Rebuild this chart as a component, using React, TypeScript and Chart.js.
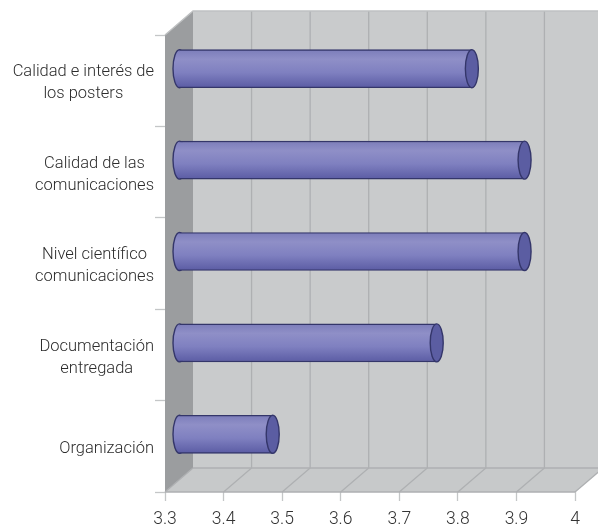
import React, { useEffect, useRef } from "react";
import { Chart, registerables } from "chart.js";

Chart.register(...registerables);

const categories: string[][] = [
  ["Calidad e interés de", "los posters"],
  ["Calidad de las", "comunicaciones"],
  ["Nivel científico", "comunicaciones"],
  ["Documentación", "entregada"],
  ["Organización"],
];
const values = [3.8, 3.89, 3.89, 3.74, 3.46];
const xTicks = [3.3, 3.4, 3.5, 3.6, 3.7, 3.8, 3.9, 4];
const axisStart = 3.3;

const DX = 28;
const DY = -24;
const BAR_H = 38;
const CAP_RX = 6.5;
const FONT = "Roboto";
const LABEL_RIGHT = 154;
const LINE_H = 22;

function bodyGradient(ctx: CanvasRenderingContext2D, y: number) {
  const g = ctx.createLinearGradient(0, y - BAR_H / 2, 0, y + BAR_H / 2);
  g.addColorStop(0, "#7c7dba");
  g.addColorStop(0.25, "#8f8fc7");
  g.addColorStop(0.6, "#7f80c0");
  g.addColorStop(1, "#5b5ca4");
  return g;
}

const room = {
  id: "room",
  beforeDatasetsDraw(chart: any) {
    const { ctx, chartArea: a, scales } = chart;
    const x = scales.x;
    const l = a.left, r = a.right, t = a.top, b = a.bottom;
    ctx.save();
    ctx.fillStyle = "#c9cbcc";
    ctx.fillRect(l + DX, t + DY, r - l, b - t);
    ctx.beginPath();
    ctx.moveTo(l, b); ctx.lineTo(r, b); ctx.lineTo(r + DX, b + DY); ctx.lineTo(l + DX, b + DY); ctx.closePath();
    ctx.fillStyle = "#c7c9ca";
    ctx.fill();
    ctx.beginPath();
    ctx.moveTo(l, t); ctx.lineTo(l + DX, t + DY); ctx.lineTo(l + DX, b + DY); ctx.lineTo(l, b); ctx.closePath();
    ctx.fillStyle = "#9b9d9f";
    ctx.fill();
    ctx.strokeStyle = "#aeb0b2";
    ctx.lineWidth = 1.3;
    for (const v of xTicks) {
      const px = x.getPixelForValue(v);
      ctx.beginPath();
      if (v > xTicks[0]) {
        ctx.moveTo(px + DX, t + DY);
        ctx.lineTo(px + DX, b + DY);
      } else {
        ctx.moveTo(px + DX, b + DY);
      }
      ctx.lineTo(px, b);
      ctx.stroke();
    }
    ctx.beginPath();
    ctx.moveTo(l + DX, b + DY); ctx.lineTo(r + DX, b + DY);
    ctx.moveTo(l, b); ctx.lineTo(r, b);
    ctx.stroke();
    ctx.strokeStyle = "#bfc1c2";
    ctx.beginPath();
    ctx.moveTo(l, t); ctx.lineTo(l + DX, t + DY); ctx.lineTo(r + DX, t + DY);
    ctx.stroke();
    ctx.restore();
  },
  beforeDatasetDraw(chart: any) {
    const { ctx } = chart;
    ctx.save();
    ctx.translate(DX / 2, DY / 2);
    chart.getDatasetMeta(0).data.forEach((bar: any) => {
      ctx.beginPath();
      ctx.ellipse(bar.base, bar.y, CAP_RX, BAR_H / 2, 0, 0, Math.PI * 2);
      ctx.fillStyle = bodyGradient(ctx, bar.y);
      ctx.fill();
      ctx.strokeStyle = "#34366a";
      ctx.lineWidth = 1.4;
      ctx.stroke();
    });
  },
  afterDatasetDraw(chart: any) {
    const { ctx } = chart;
    chart.getDatasetMeta(0).data.forEach((bar: any) => {
      ctx.beginPath();
      ctx.ellipse(bar.x, bar.y, CAP_RX, BAR_H / 2, 0, 0, Math.PI * 2);
      ctx.fillStyle = "#5b5da2";
      ctx.fill();
      ctx.strokeStyle = "#34366a";
      ctx.lineWidth = 1.4;
      ctx.stroke();
    });
    ctx.restore();
  },
  afterDraw(chart: any) {
    const { ctx, scales } = chart;
    ctx.save();
    ctx.font = `300 16.5px ${FONT}`;
    ctx.fillStyle = "#2c2c2c";
    ctx.textAlign = "center";
    ctx.textBaseline = "middle";
    categories.forEach((lines, i) => {
      const y = scales.y.getPixelForValue(i) + 2.5;
      const w = Math.max(...lines.map((s) => ctx.measureText(s).width));
      lines.forEach((s, j) => {
        ctx.fillText(s, LABEL_RIGHT - w / 2, y + (j - (lines.length - 1) / 2) * LINE_H);
      });
    });
    ctx.restore();
  },
};

export default function App() {
  const ref = useRef<HTMLCanvasElement>(null);
  useEffect(() => {
    document.body.style.margin = "0";
    const chart = new Chart(ref.current!, {
      type: "bar",
      data: {
        labels: categories as any,
        datasets: [
          {
            data: values,
            base: axisStart,
            barThickness: BAR_H,
            borderColor: "#34366a",
            borderWidth: { top: 1.4, bottom: 1.4, left: 0, right: 0 },
            borderSkipped: false,
            backgroundColor: (c: any) => {
              const y = c.chart.scales?.y?.getPixelForValue(c.dataIndex);
              return Number.isFinite(y) ? bodyGradient(c.chart.ctx, y) : "#7f80c0";
            },
          } as any,
        ],
      },
      plugins: [room],
      options: {
        indexAxis: "y",
        animation: false,
        responsive: false,
        layout: { padding: { top: 35, right: 23, left: 0, bottom: 0 } },
        plugins: { legend: { display: false }, tooltip: { enabled: false } },
        scales: {
          x: {
            type: "linear",
            min: axisStart,
            max: 4,
            afterFit: (s: any) => { s.height = 32; },
            afterBuildTicks: (s: any) => { s.ticks = xTicks.map((value) => ({ value })); },
            border: { display: false },
            grid: { drawOnChartArea: false, tickLength: 9, tickColor: "#c4c6c7", tickWidth: 1.3 },
            ticks: {
              color: "#333",
              font: { family: FONT, size: 17.5, weight: "300" },
              padding: 8,
              maxRotation: 0,
              autoSkip: false,
              callback: (v: any) => String(parseFloat(Number(v).toFixed(1))),
            },
          },
          y: {
            afterFit: (s: any) => { s.width = 165; },
            border: { display: false },
            grid: { drawOnChartArea: false, tickLength: 10, tickColor: "#c4c6c7", tickWidth: 1.3 },
            ticks: { display: false },
          },
        },
      },
    } as any);
    return () => chart.destroy();
  }, []);
  return <canvas ref={ref} width={598} height={524} style={{ display: "block", width: 598, height: 524 }} />;
}
